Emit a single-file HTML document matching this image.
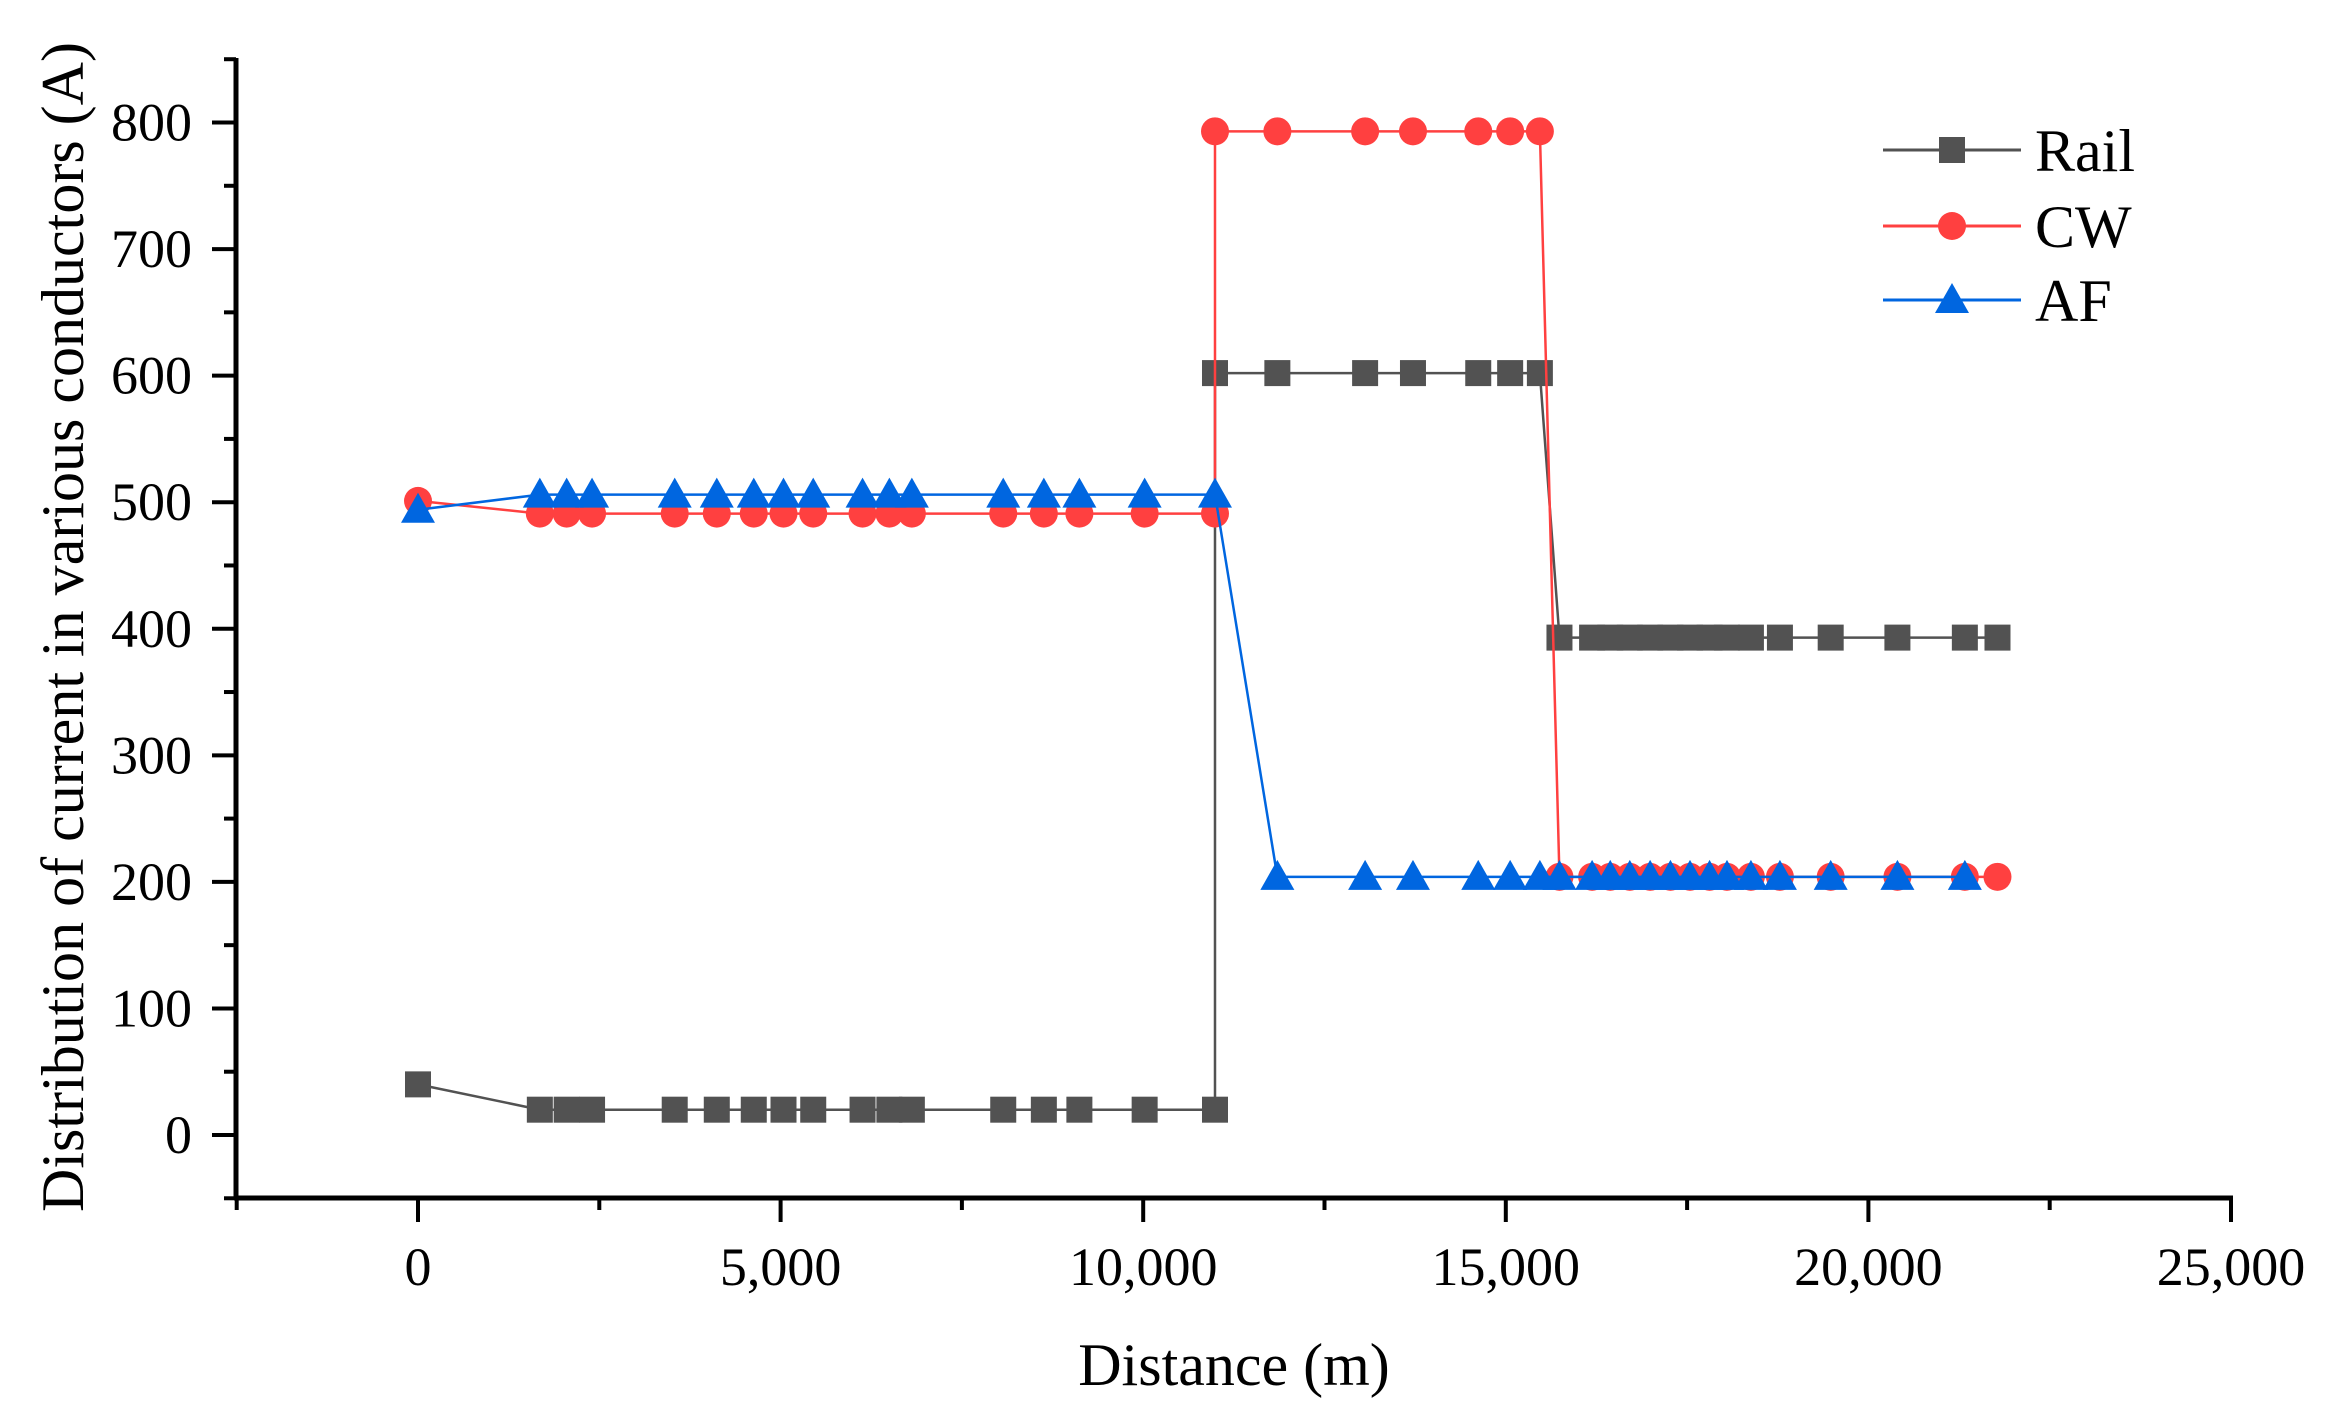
<!DOCTYPE html>
<html><head><meta charset="utf-8"><style>
html,body{margin:0;padding:0;background:#fff;}
svg{display:block;font-family:"Liberation Serif","Times New Roman",serif;}
</style></head><body>
<svg id="chart" width="2330" height="1424" viewBox="0 0 2330 1424" xmlns="http://www.w3.org/2000/svg">
<g id="axes"></g>
<g id="series"></g>
<g id="legend"></g>
</svg>
<script>
const railX = [0,1680,2050,2400,3540,4120,4630,5040,5450,6130,6500,6810,8070,8630,9120,10020,10990,10990,11850,13060,13720,14620,15060,15470,15740,16190,16440,16710,16990,17270,17540,17810,18050,18380,18780,19480,20400,21330,21780];
const railY = [40,20,20,20,20,20,20,20,20,20,20,20,20,20,20,20,20,602,602,602,602,602,602,602,393,393,393,393,393,393,393,393,393,393,393,393,393,393,393];
const cwX = [0,1680,2050,2400,3540,4120,4630,5040,5450,6130,6500,6810,8070,8630,9120,10020,10990,10990,11850,13060,13720,14620,15060,15470,15740,16190,16440,16710,16990,17270,17540,17810,18050,18380,18780,19480,20400,21330,21780];
const cwY = [501,491,491,491,491,491,491,491,491,491,491,491,491,491,491,491,491,793,793,793,793,793,793,793,204,204,204,204,204,204,204,204,204,204,204,204,204,204,204];
const afX = [0,1680,2050,2400,3540,4120,4630,5040,5450,6130,6500,6810,8070,8630,9120,10020,10990,11850,13060,13720,14620,15060,15470,15740,16190,16440,16710,16990,17270,17540,17810,18050,18380,18780,19480,20400,21330];
const afY = [494,506,506,506,506,506,506,506,506,506,506,506,506,506,506,506,506,204,204,204,204,204,204,204,204,204,204,204,204,204,204,204,204,204,204,204,204];
const xTicks = [0,5000,10000,15000,20000,25000];
const xTickLabels = ["0","5,000","10,000","15,000","20,000","25,000"];
const yTicks = [0,100,200,300,400,500,600,700,800];
const yTickLabels = ["0","100","200","300","400","500","600","700","800"];

const NS="http://www.w3.org/2000/svg";
const X0=418, XS=(2231-418)/25000, Y0=1135, YS=(1135-122.5)/800;
const sx=v=>X0+v*XS, sy=v=>Y0-v*YS;
const AXL=236, AXB=1198, AXT=58, AXR=2231;
function mk(tag,attrs,parent){const e=document.createElementNS(NS,tag);for(const k in attrs)e.setAttribute(k,attrs[k]);parent.appendChild(e);return e;}
const axes=document.getElementById('axes');
let e;
e=mk('line',{x1:AXL,y1:AXT,x2:AXL,y2:AXB+2,stroke:'#000','stroke-width':5},axes);


e=mk('line',{x1:AXL-2,y1:AXB,x2:AXR+2,y2:AXB,stroke:'#000','stroke-width':5},axes);


for(let v=-50;v<=850;v+=50){
  const major=v%100===0&&v>=0&&v<=800;
  e=mk('line',{x1:AXL-(major?24:12),y1:sy(v),x2:AXL,y2:sy(v),stroke:'#000','stroke-width':4},axes);
  
  
}
yTicks.forEach((v,i)=>{
  e=mk('text',{x:192,y:sy(v)+18,'text-anchor':'end','font-size':54},axes);
  e.textContent=yTickLabels[i];
  
  
});
for(let v=-2500;v<=25000;v+=2500){
  const major=v%5000===0&&v>=0;
  e=mk('line',{x1:sx(v),y1:AXB,x2:sx(v),y2:AXB+(major?24:12),stroke:'#000','stroke-width':4},axes);
  
  
}
xTicks.forEach((v,i)=>{
  e=mk('text',{x:sx(v),y:1285,'text-anchor':'middle','font-size':54},axes);
  e.textContent=xTickLabels[i];
  
  
});
e=mk('text',{x:1234,y:1385,'text-anchor':'middle','font-size':60},axes);
e.textContent='Distance (m)';


e=mk('text',{x:0,y:0,'text-anchor':'middle','font-size':60,transform:'translate(83,627) rotate(-90)',textLength:1170,lengthAdjust:'spacingAndGlyphs'},axes);
e.textContent='Distribution of current in various conductors (A)';



const seriesG=document.getElementById('series');
function marker(type,x,y,color,parent){
  let m;
  if(type==='sq') m=mk('rect',{x:x-13,y:y-13,width:26,height:26,fill:color},parent);
  else if(type==='ci') m=mk('circle',{cx:x,cy:y,r:14,fill:color},parent);
  else m=mk('polygon',{points:`${x},${y-17} ${x+17},${y+13} ${x-17},${y+13}`,fill:color},parent);
  return m;
}
const defs=[
  {name:'rail',xs:railX,ys:railY,color:'#525252',type:'sq'},
  {name:'cw',xs:cwX,ys:cwY,color:'#ff4040',type:'ci'},
  {name:'af',xs:afX,ys:afY,color:'#0066e0',type:'tr'}
];
defs.forEach(s=>{
  const g=mk('g',{},seriesG);
  
  
  const pl=mk('polyline',{points:s.xs.map((x,i)=>sx(x)+','+sy(s.ys[i])).join(' '),fill:'none',stroke:s.color,'stroke-width':2.5},g);
  
  
  s.xs.forEach((x,i)=>{
    const m=marker(s.type,sx(x),sy(s.ys[i]),s.color,g);
    
    
  });
});

const legend=document.getElementById('legend');
const legendNames=['Rail','CW','AF'];
const legendY=[150,226,300];
defs.forEach((s,i)=>{
  const g=mk('g',{},legend);
  
  
  mk('line',{x1:1883,y1:legendY[i],x2:2021,y2:legendY[i],stroke:s.color,'stroke-width':3},g);
  marker(s.type,1952,legendY[i],s.color,g);
  const t=mk('text',{x:2035,y:legendY[i]+21,'font-size':60},g);
  t.textContent=legendNames[i];
});
</script>
</body></html>
